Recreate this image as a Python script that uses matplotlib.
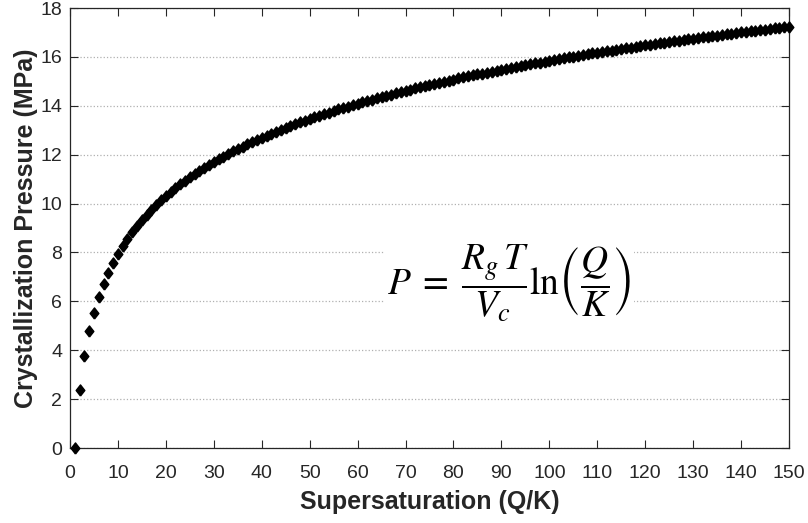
import numpy as np
import matplotlib.pyplot as plt

plt.rcParams["font.family"] = ["Liberation Sans", "DejaVu Sans"]
plt.rcParams["mathtext.fontset"] = "stix"

# supersaturation ratio Q/K
supersaturation = list(range(1, 151))

# crystallization pressure (MPa)
pressure = [
    0.00, 2.38, 3.78, 4.77, 5.54, 6.16, 6.69, 7.15, 7.56, 7.92,
    8.25, 8.55, 8.82, 9.08, 9.32, 9.54, 9.75, 9.94, 10.13, 10.31,
    10.47, 10.63, 10.79, 10.93, 11.07, 11.21, 11.34, 11.46, 11.58, 11.70,
    11.81, 11.92, 12.03, 12.13, 12.23, 12.33, 12.42, 12.51, 12.60, 12.69,
    12.77, 12.86, 12.94, 13.02, 13.09, 13.17, 13.24, 13.32, 13.39, 13.46,
    13.53, 13.59, 13.66, 13.72, 13.79, 13.85, 13.91, 13.97, 14.03, 14.08,
    14.14, 14.20, 14.25, 14.31, 14.36, 14.41, 14.46, 14.52, 14.57, 14.61,
    14.66, 14.71, 14.76, 14.81, 14.85, 14.90, 14.94, 14.99, 15.03, 15.07,
    15.12, 15.16, 15.20, 15.24, 15.28, 15.32, 15.36, 15.40, 15.44, 15.48,
    15.52, 15.56, 15.59, 15.63, 15.67, 15.70, 15.74, 15.77, 15.81, 15.84,
    15.88, 15.91, 15.94, 15.98, 16.01, 16.04, 16.07, 16.11, 16.14, 16.17,
    16.20, 16.23, 16.26, 16.29, 16.32, 16.35, 16.38, 16.41, 16.44, 16.47,
    16.50, 16.53, 16.55, 16.58, 16.61, 16.64, 16.66, 16.69, 16.72, 16.74,
    16.77, 16.80, 16.82, 16.85, 16.87, 16.90, 16.92, 16.95, 16.97, 17.00,
    17.02, 17.05, 17.07, 17.10, 17.12, 17.14, 17.17, 17.19, 17.21, 17.24,
]

x_ticks = list(range(0, 151, 10))
y_ticks = list(range(0, 19, 2))

# slightly squat diamond marker
diamond = [(0, -1), (0.78, 0), (0, 1), (-0.78, 0), (0, -1)]

fig = plt.figure(figsize=(8.08, 5.23), dpi=100)
ax = fig.add_axes([0.0866, 0.1434, 0.8899, 0.8413])

ax.plot(supersaturation, pressure, linestyle="none", marker=diamond,
        markersize=8, color="black", zorder=3, clip_on=False)

ax.set_xlim(0, 150)
ax.set_ylim(0, 18)
ax.set_xticks(x_ticks)
ax.set_yticks(y_ticks)
ax.tick_params(direction="in", length=6, width=0.8, top=True, right=True,
               labelsize=14, colors="#262626")
ax.tick_params(axis="x", pad=12)
ax.tick_params(axis="y", pad=5.5)
ax.grid(axis="y", linestyle=":", color="#b0b0b0", linewidth=0.9)
for side in ax.spines.values():
    side.set_color("#262626")
    side.set_linewidth(0.9)

ax.set_xlabel("Supersaturation (Q/K)", fontsize=18, fontweight="bold",
              color="#262626", labelpad=6)
ax.set_ylabel("Crystallization Pressure (MPa)", fontsize=18,
              fontweight="bold", color="#262626", labelpad=2)

ax.text(0.611, 0.375,
        r"$P\; = \;\dfrac{R_g\,T}{V_c}\mathrm{ln}\left(\dfrac{Q}{K}\right)$",
        transform=ax.transAxes, ha="center", va="center", fontsize=27,
        bbox=dict(facecolor="white", edgecolor="none", pad=2), zorder=4)

fig.savefig("out.png", dpi=100)
